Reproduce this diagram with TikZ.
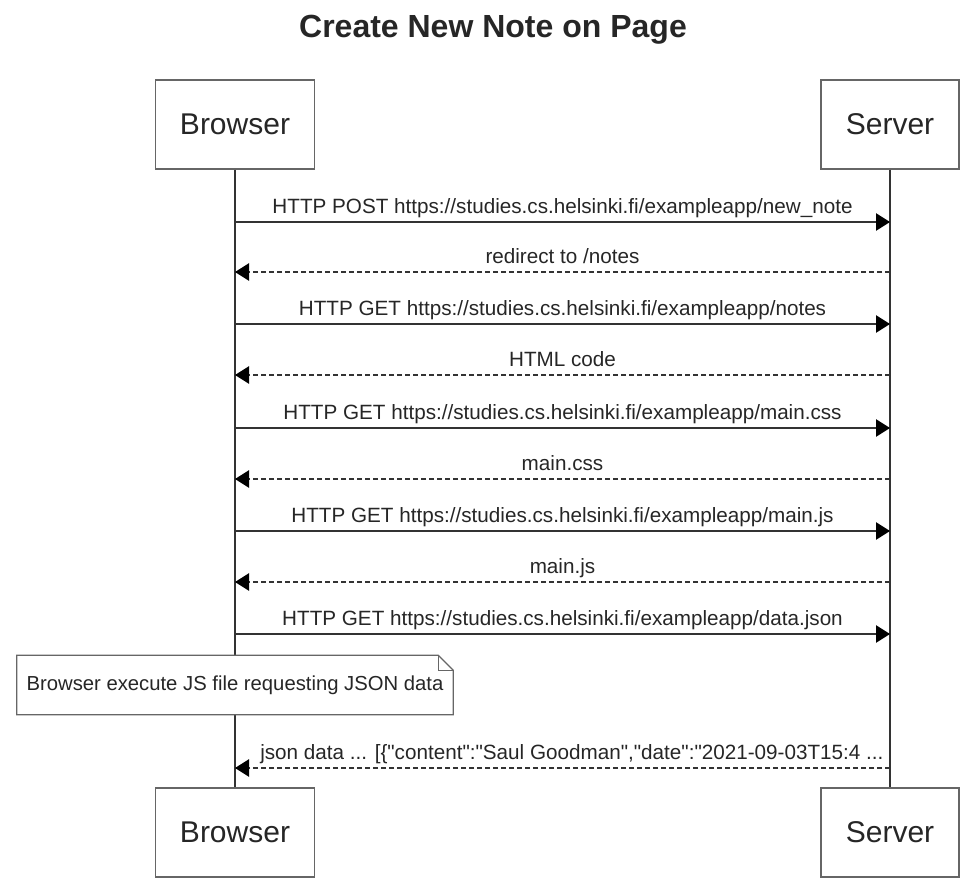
\documentclass[tikz,border=0pt]{standalone}
\usepackage{fontspec}
\setmainfont{Liberation Sans}[Ligatures=TeXOff]
\usetikzlibrary{arrows.meta}
\usepackage{xcolor}
\definecolor{linegray}{HTML}{333333}
\definecolor{boxgray}{HTML}{666666}

\begin{document}
\begin{tikzpicture}[
    x=0.75pt, y=-0.75pt,
    every node/.style={font=\fontsize{15.5}{18}\selectfont, text=black!85},
    actor/.style={draw=boxgray, line width=1pt, fill=white, minimum height=66.75pt, inner sep=0pt, font=\fontsize{22.5}{26}\selectfont},
    lifeline/.style={draw=linegray, line width=1pt},
    msg/.style={draw=linegray, line width=1pt, -{Triangle[length=10.5pt, width=13pt, color=black]}},
    reply/.style={msg, dash pattern=on 3.75pt off 2.25pt},
    lbl/.style={midway, anchor=base, yshift=6.75pt},
    notebox/.style={fill=white, minimum width=327pt, minimum height=44.25pt, inner sep=0pt, font=\fontsize{15.2}{18}\selectfont}
  ]
    \useasboundingbox (0,0) rectangle (966,892);

    \node[font=\bfseries\fontsize{24}{28}\selectfont] (title) at (493,30) {Create New Note on Page};

    \node[actor, minimum width=119.25pt] (browserTop) at (235,124.5) {Browser};
    \node[actor, minimum width=103.5pt] (serverTop) at (890,124.5) {Server};
    \node[actor, minimum width=119.25pt] (browserBot) at (235,832.5) {Browser};
    \node[actor, minimum width=103.5pt] (serverBot) at (890,832.5) {Server};

    \draw[lifeline] (browserTop.south) -- (browserBot.north);
    \draw[lifeline] (serverTop.south) -- (serverBot.north);

    % message rows on the lifelines
    \foreach \i/\y in {1/222, 2/272, 3/324, 4/375, 5/428, 6/479, 7/531, 8/582, 9/634, 10/768} {
      \coordinate (b\i) at (235,\y);
      \coordinate (s\i) at (890,\y);
    }

    \draw[msg] (b1) -- node[lbl] {HTTP POST https://studies.cs.helsinki.fi/exampleapp/new\_note} (s1);
    \draw[reply] (s2) -- node[lbl] {redirect to /notes} (b2);
    \draw[msg] (b3) -- node[lbl] {HTTP GET https://studies.cs.helsinki.fi/exampleapp/notes} (s3);
    \draw[reply] (s4) -- node[lbl] {HTML code} (b4);
    \draw[msg] (b5) -- node[lbl] {HTTP GET https://studies.cs.helsinki.fi/exampleapp/main.css} (s5);
    \draw[reply] (s6) -- node[lbl] {main.css} (b6);
    \draw[msg] (b7) -- node[lbl] {HTTP GET https://studies.cs.helsinki.fi/exampleapp/main.js} (s7);
    \draw[reply] (s8) -- node[lbl] {main.js} (b8);
    \draw[msg] (b9) -- node[lbl] {HTTP GET https://studies.cs.helsinki.fi/exampleapp/data.json} (s9);

    % note with folded corner
    \node[notebox] (note) at (235,685) {Browser execute JS file requesting JSON data};
    \draw[boxgray, line width=1pt] (note.south west) -- (note.north west) -- ([xshift=-11.25pt]note.north east)
      -- ([yshift=-11.25pt]note.north east) -- (note.south east) -- cycle;
    \draw[boxgray, line width=0.8pt] ([xshift=-11.25pt]note.north east) |- ([yshift=-11.25pt]note.north east);

    \draw[reply] (s10) -- node[lbl, xshift=7pt] {json data ... [\{"content":"Saul Goodman","date":"2021-09-03T15:4 ...} (b10);
\end{tikzpicture}
\end{document}
